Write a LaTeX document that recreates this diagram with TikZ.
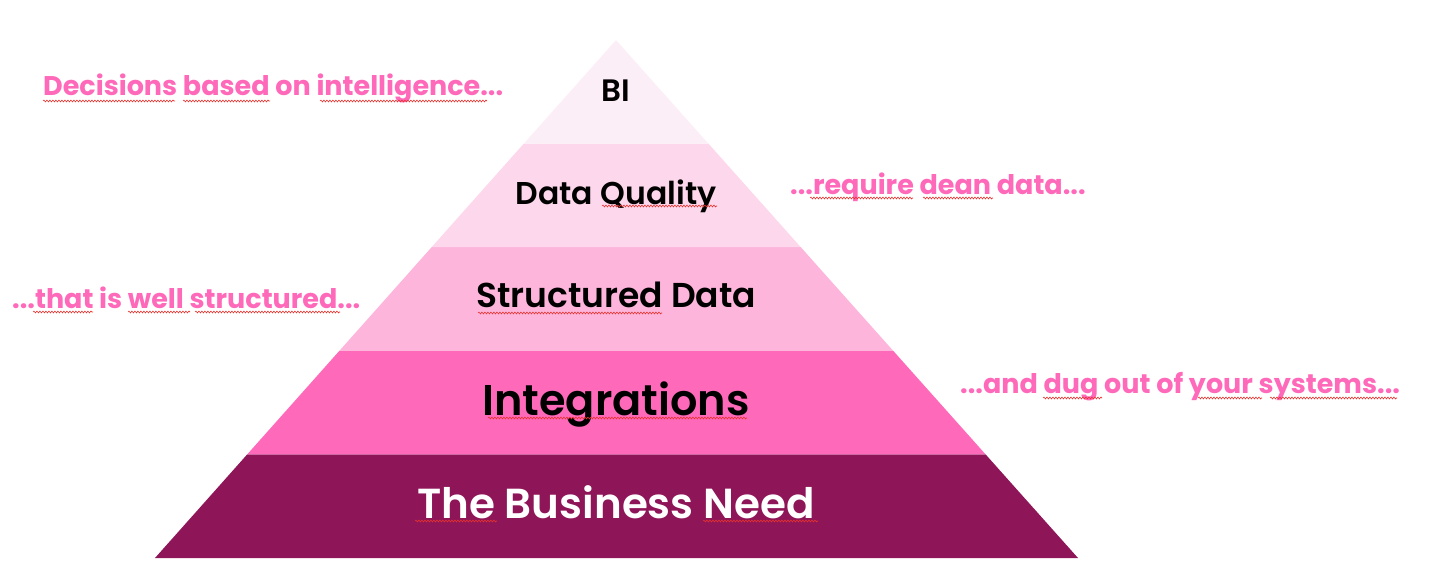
\documentclass[tikz,border=0pt]{standalone}
\usepackage{fontspec}
\setmainfont{Poppins}
\newfontfamily\medfont{Poppins SemiBold}
\definecolor{bipink}{HTML}{FCEEF6}
\definecolor{dqpink}{HTML}{FDD7EB}
\definecolor{sdpink}{HTML}{FDB5DC}
\definecolor{hotpink}{HTML}{FF69BA}
\definecolor{plum}{HTML}{8E1558}
\definecolor{typored}{HTML}{E8322E}
\usetikzlibrary{calc,decorations.pathmorphing}

\begin{document}
\begin{tikzpicture}[
      x=1pt, y=-1pt,
      layer/.style = {draw=none},
      lbl/.style   = {anchor=base, inner sep=0pt, font=\medfont},
      note/.style  = {anchor=base west, inner sep=0pt, text=hotpink,
                      font=\fontsize{27}{31}\selectfont\bfseries},
      typo/.style  = {draw=typored, line width=0.6pt, decorate,
                      decoration={snake, amplitude=0.9pt, segment length=3pt}},
    ]
    \useasboundingbox (0,0) rectangle (1434,581);
    \coordinate (apex) at (616,40);
    \coordinate (bl)   at (155,558);
    \coordinate (br)   at (1078,558);

    % layers, bottom to top
    \foreach \a/\b/\c in {0.8/1/plum, 0.6/0.8/hotpink, 0.4/0.6/sdpink,
                          0.2/0.4/dqpink}
      \fill[layer, \c] ($(apex)!\a!(bl)$) -- ($(apex)!\b!(bl)$)
                       -- ($(apex)!\b!(br)$) -- ($(apex)!\a!(br)$) -- cycle;
    \fill[layer, bipink] (apex) -- ($(apex)!0.2!(bl)$) -- ($(apex)!0.2!(br)$) -- cycle;

    % pyramid labels
    \node[lbl, font=\medfont\fontsize{31}{34}\selectfont] (bi)   at (616,101) {BI};
    \node[lbl, font=\medfont\fontsize{31.5}{35}\selectfont] (dq)   at (616,204) {Data Quality};
    \node[lbl, font=\medfont\fontsize{34.5}{38}\selectfont] (sd)   at (616,307) {Structured Data};
    \node[lbl, font=\medfont\fontsize{43}{48}\selectfont] (intg) at (616,415) {Integrations};
    \node[lbl, font=\medfont\fontsize{42}{47}\selectfont, text=white] (need) at (616,518)
         {The Business Need};

    % side notes
    \node[note] (decide)  at (43,95)   {Decisions based on intelligence...};
    \node[note] (clean)   at (790,194) {...require dean data...};
    \node[note] (struct)  at (12,308)  {...that is well structured...};
    \node[note] (dug)     at (960,393) {...and dug out of your systems...};

    % spell-check marks
    \draw[typo] (43,101) -- (175,101);
    \draw[typo] (183,101) -- (270,101);
    \draw[typo] (320,101) -- (487,101);
    \draw[typo] (810,198) -- (913,198);
    \draw[typo] (923,198) -- (993,198);
    \draw[typo] (33,312) -- (93,312);
    \draw[typo] (128,312) -- (190,312);
    \draw[typo] (195,312) -- (340,312);
    \draw[typo] (1043,398) -- (1102,398);
    \draw[typo] (1198,398) -- (1262,398);
    \draw[typo] (1270,398) -- (1397,398);
    \draw[typo] (602,206) -- (717,206);
    \draw[typo] (478,313) -- (662,313);
    \draw[typo] (488,418) -- (747,418);
    \draw[typo] (415,521) -- (497,521);
    \draw[typo] (703,521) -- (818,521);
\end{tikzpicture}
\end{document}
